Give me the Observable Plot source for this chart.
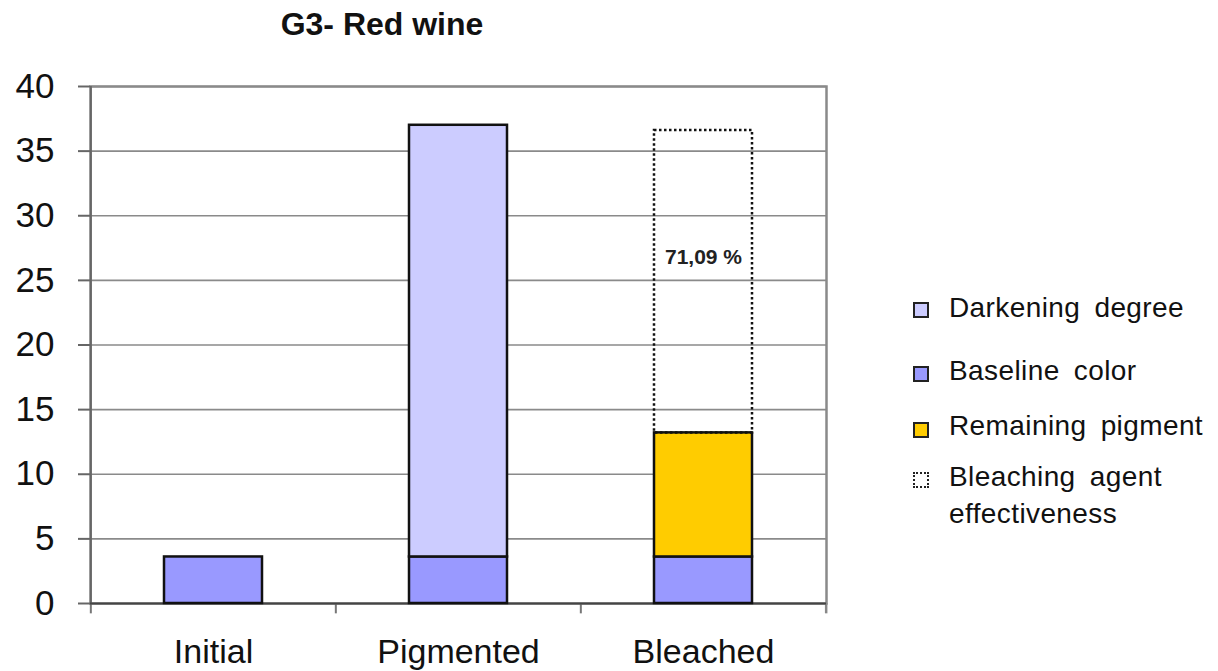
<!DOCTYPE html>
<html>
<head>
<meta charset="utf-8">
<script src="https://cdn.jsdelivr.net/npm/d3@7"></script>
<script src="https://cdn.jsdelivr.net/npm/@observablehq/plot@0.6"></script>
<style>
  html, body { margin: 0; padding: 0; background: #fff; }
  #wrap { position: relative; width: 1218px; height: 671px; font-family: "Liberation Sans", Arial, sans-serif; color: #111; }
  #title { position: absolute; left: 232px; width: 300px; top: 6px; text-align: center; font-weight: bold; font-size: 32px; }
  .sw { position: absolute; left: 913px; width: 12px; height: 12px; border: 2.5px solid #222; }
  .lt { position: absolute; left: 949px; white-space: nowrap; font-size: 28px; line-height: 37px; word-spacing: 6px; letter-spacing: 0.4px; }
</style>
</head>
<body>
<div id="wrap">
  <div id="chart"></div>
  <div id="title"></div>
  <div id="legend"></div>
</div>
<script>
// ---- data ----
const categories = ["Initial", "Pigmented", "Bleached"];
const baselineColor = [3.6, 3.6, 3.6];
const darkeningDegree = [0, 33.4, 0];
const remainingPigment = [0, 0, 9.6];
const agentBoxCategory = ["Bleached"];
const agentBoxBottom = [13.2];
const agentBoxTop = [36.6];
const agentLabel = ["71,09 %"];
const agentLabelY = [26.8];
const yTicks = [0, 5, 10, 15, 20, 25, 30, 35, 40];
const seriesNames = ["Baseline color", "Darkening degree", "Remaining pigment"];
const seriesColors = ["#9999ff", "#ccccff", "#ffcc00"];
const legendNames = ["Darkening degree", "Baseline color", "Remaining pigment", "Bleaching agent\neffectiveness"];
const titleText = "G3- Red wine";

// ---- table ----
const seriesValues = [baselineColor, darkeningDegree, remainingPigment];
const rows = [];
categories.forEach((c, i) => {
  seriesNames.forEach((s, j) => {
    if (seriesValues[j][i] > 0) rows.push({category: c, series: s, value: seriesValues[j][i]});
  });
});
const boxes = agentBoxCategory.map((c, i) => ({category: c, y1: agentBoxBottom[i], y2: agentBoxTop[i], label: agentLabel[i], ly: agentLabelY[i]}));

const W = 1218, H = 671;
const mL = 90, mR = 392, mT = 86, mB = 68;
const step = (W - mL - mR) / 3;

const chart = Plot.plot({
  width: W, height: H,
  marginLeft: mL, marginRight: mR, marginTop: mT, marginBottom: mB,
  style: {fontFamily: "'Liberation Sans', Arial, sans-serif", color: "#111", background: "#fff"},
  x: {domain: categories, paddingInner: 0.6, paddingOuter: 0.3},
  y: {domain: [0, 40]},
  color: {domain: seriesNames, range: seriesColors},
  marks: [
    Plot.gridY(yTicks, {stroke: "#8a8a8a", strokeOpacity: 1, strokeWidth: 1.6}),
    Plot.frame({stroke: "#8a8a8a", strokeWidth: 2.5}),
    Plot.ruleX(categories, {x: d => d, y1: 0, y2: -0.8, dx: -step / 2, stroke: "#777", strokeWidth: 2}),
    Plot.ruleX(categories.slice(-1), {x: d => d, y1: 0, y2: -0.8, dx: step / 2, stroke: "#888", strokeWidth: 2.5}),
    Plot.ruleX(categories.slice(0, 1), {x: d => d, y1: 0, y2: 40, dx: -step / 2, stroke: "#666", strokeWidth: 2}),
    Plot.axisY(yTicks, {tickSize: 12, stroke: "#666", strokeWidth: 2, fontSize: 35, tickPadding: 24, label: null, fill: "#111"}),
    Plot.axisX({tickSize: 0, fontSize: 34, tickPadding: 35, label: null, fill: "#111"}),
    Plot.ruleY([0], {stroke: "#444", strokeWidth: 2}),
    Plot.barY(rows, {x: "category", y: "value", fill: "series", stroke: "#111", strokeWidth: 2.5}),
    Plot.barY(boxes, {x: "category", y1: "y1", y2: "y2", fill: "none", stroke: "#111", strokeWidth: 2.5, strokeDasharray: "2.5,2.5"}),
    Plot.text(boxes, {x: "category", y: "ly", text: "label", fontWeight: "bold", fontSize: 21, fill: "#222"})
  ]
});
document.getElementById("chart").appendChild(chart);

document.getElementById("title").textContent = titleText;

// ---- legend ----
const swatchTops = [302, 366, 422, 472];
const textTops = [289, 352, 407, 458];
const legend = document.getElementById("legend");
legendNames.forEach((name, i) => {
  const sw = document.createElement("div");
  sw.className = "sw";
  sw.style.top = swatchTops[i] + "px";
  if (i === 3) {
    sw.style.border = "2.5px dotted #222";
    sw.style.background = "transparent";
  } else {
    sw.style.background = seriesColors[seriesNames.indexOf(name)];
  }
  const t = document.createElement("div");
  t.className = "lt";
  t.style.top = textTops[i] + "px";
  t.innerHTML = name.replace("\n", "<br>");
  legend.appendChild(sw);
  legend.appendChild(t);
});
</script>
</body>
</html>
